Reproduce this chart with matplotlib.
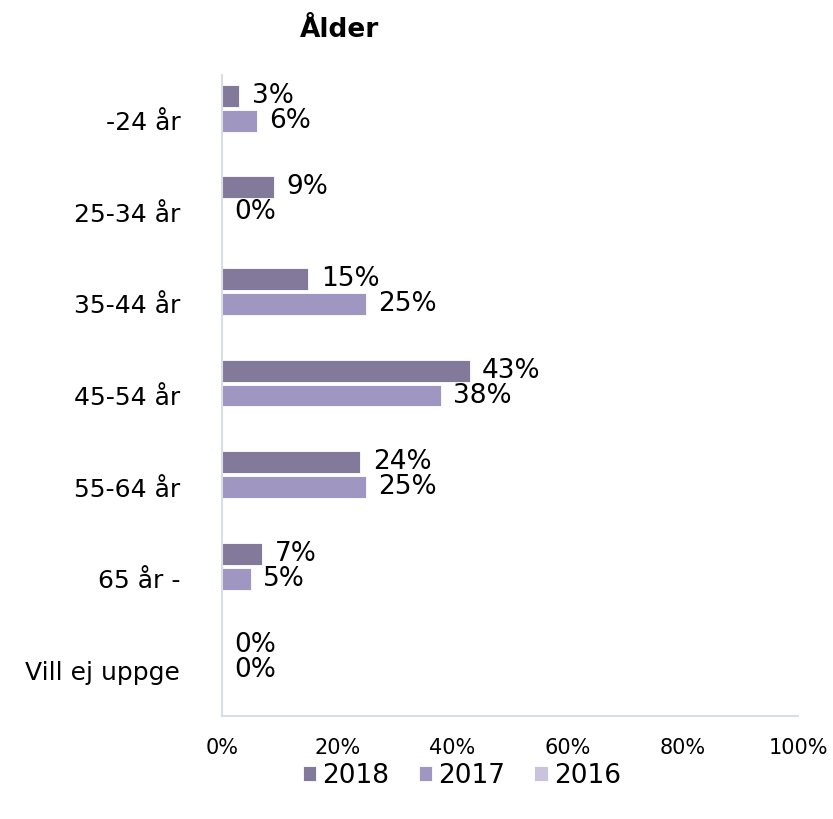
import matplotlib
matplotlib.use("Agg")
import matplotlib.pyplot as plt
import numpy as np

categories = ["-24 år", "25-34 år", "35-44 år", "45-54 år", "55-64 år", "65 år -", "Vill ej uppge"]
series_names = ["2018", "2017", "2016"]
values_2018 = [3, 9, 15, 43, 24, 7, 0]
values_2017 = [6, 0, 25, 38, 25, 5, 0]
values_2016 = [None, None, None, None, None, None, None]
colors = ["#837a9b", "#9f97c1", "#c9c4dc"]

plt.rcParams["font.family"] = ["DejaVu Sans"]

fig = plt.figure(figsize=(8.33, 8.19), dpi=100)
ax = fig.add_axes([222 / 833, 1 - 716 / 819, (798 - 222) / 833, (716 - 75) / 819])

y = np.arange(len(categories))
offsets = [-0.272, 0.0, 0.272]
bar_h = 0.24

for name, vals, off, col in zip(series_names, [values_2018, values_2017, values_2016], offsets, colors):
    drawn = [v if v is not None else 0 for v in vals]
    bars = ax.barh(y + off, drawn, height=bar_h, color=col, label=name,
                   edgecolor="white", linewidth=0.6)
    if all(v is None for v in vals):
        continue
    for b, v in zip(bars, vals):
        ax.annotate(f"{v}%", xy=(b.get_width(), b.get_y() + b.get_height() / 2),
                    xytext=(9, 0), textcoords="offset points",
                    ha="left", va="center", fontsize=19)

ax.set_xlim(0, 100)
ax.set_ylim(len(categories) - 0.5, -0.5)
ax.set_xticks([0, 20, 40, 60, 80, 100])
ax.set_xticklabels([f"{t}%" for t in [0, 20, 40, 60, 80, 100]], fontsize=15)
ax.set_yticks(y)
ax.set_yticklabels(categories, fontsize=18)
ax.tick_params(axis="both", length=0)
ax.tick_params(axis="x", pad=16)
ax.tick_params(axis="y", pad=30)

for side in ["top", "right"]:
    ax.spines[side].set_visible(False)
for side in ["left", "bottom"]:
    ax.spines[side].set_color("#d9dde6")
    ax.spines[side].set_linewidth(1.5)

fig.text(340 / 833, 1 - 30 / 819, "Ålder", ha="center", va="center",
         fontsize=19, fontweight="bold")

handles, labels = ax.get_legend_handles_labels()
fig.legend(handles, labels, loc="center", bbox_to_anchor=(462 / 833, 1 - 776 / 819),
           ncol=3, frameon=False, fontsize=19, handlelength=0.5, handleheight=0.5,
           handletextpad=0.25, columnspacing=1.1)

fig.savefig("out.png", dpi=100)
